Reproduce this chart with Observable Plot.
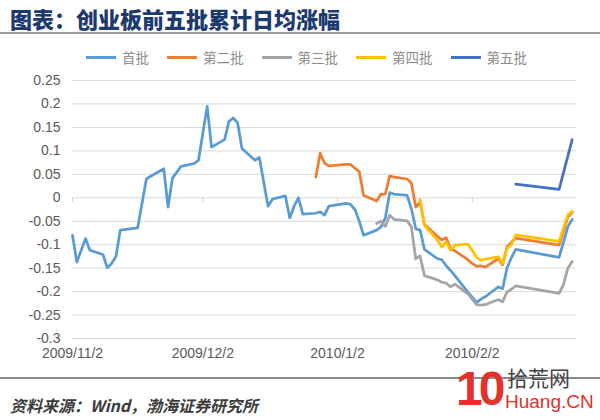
<!DOCTYPE html>
<html>
<head>
<meta charset="utf-8">
<script src="https://cdn.jsdelivr.net/npm/d3@7"></script>
<script src="https://cdn.jsdelivr.net/npm/@observablehq/plot@0.6"></script>
<style>
  html, body { margin: 0; padding: 0; background: #fff; }
  #wrap { position: relative; width: 600px; height: 420px; overflow: hidden; font-family: "Liberation Sans", Arial, sans-serif; }
  #title { position: absolute; left: 10px; top: 4px; font-family: "Noto Sans CJK SC", sans-serif; font-size: 22px; font-weight: 900; color: #1c3a6e; line-height: 28px; white-space: nowrap; }
  #rule1 { position: absolute; left: 0; top: 32px; width: 600px; height: 2px; background: #9c9c9c; }
  #legend { position: absolute; left: 86px; top: 48px; height: 18px; display: flex; align-items: center; font-family: "Noto Sans CJK SC", sans-serif; font-size: 13.5px; color: #8c8c8c; line-height: 18px; }
  .item { display: flex; align-items: center; margin-right: 18px; }
  .swatch { width: 30px; height: 3px; margin-right: 6px; }
  #chart { position: absolute; left: 0; top: 66px; }
  #rule2 { position: absolute; left: 0; top: 377px; width: 600px; height: 1.5px; background: #8a8a8a; }
  #source { position: absolute; left: 10px; top: 395px; font-family: "Noto Sans CJK SC", sans-serif; font-size: 16px; font-style: italic; font-weight: 700; color: #3a3a3a; line-height: 20px; white-space: nowrap; }
  #wm10 { position: absolute; left: 456px; top: 364px; font-family: "Liberation Sans Narrow", "Liberation Sans", sans-serif; font-weight: 700; font-size: 48px; color: #e3312b; letter-spacing: -4px; line-height: 50px; }
  #wmcn { position: absolute; left: 507px; top: 366px; font-family: "Noto Sans CJK SC", sans-serif; font-size: 21px; color: #444; line-height: 22px; }
  #wmen { position: absolute; left: 505px; top: 392px; font-family: "Liberation Sans Narrow", "Liberation Sans", sans-serif; font-size: 19px; color: #e3312b; line-height: 20px; }
</style>
</head>
<body>
<div id="wrap">
  <div id="title"></div>
  <div id="rule1"></div>
  <div id="legend"></div>
  <div id="chart"></div>
  <div id="rule2"></div>
  <div id="source"></div>
  <div id="wm10">10</div>
  <div id="wmcn">拾荒网</div>
  <div id="wmen">Huang.CN</div>
</div>
<script>
// ---- texts ----
const titleText = "图表：创业板前五批累计日均涨幅";
const sourceText = "资料来源：Wind，渤海证券研究所";

// ---- series ----
const seriesNames = ["首批", "第二批", "第三批", "第四批", "第五批"];
const seriesColors = ["#5b9bd5", "#ed7d31", "#a5a5a5", "#ffc000", "#4472c4"];

// trading dates (shared); every series below is aligned to the END of this list
const dates = [
  "2009-11-02","2009-11-03","2009-11-05","2009-11-06","2009-11-09","2009-11-10","2009-11-11","2009-11-12","2009-11-13","2009-11-17","2009-11-19","2009-11-20","2009-11-23","2009-11-24","2009-11-25","2009-11-27","2009-11-30",
  "2009-12-01","2009-12-03","2009-12-04","2009-12-07","2009-12-08","2009-12-09","2009-12-10","2009-12-11","2009-12-14","2009-12-15","2009-12-17","2009-12-18","2009-12-21","2009-12-22","2009-12-23","2009-12-24","2009-12-25","2009-12-28","2009-12-29","2009-12-30","2009-12-31",
  "2010-01-04","2010-01-05","2010-01-06","2010-01-07","2010-01-08","2010-01-11","2010-01-12","2010-01-13","2010-01-14","2010-01-15","2010-01-18","2010-01-19","2010-01-20","2010-01-21","2010-01-22","2010-01-25","2010-01-26","2010-01-27","2010-01-28","2010-01-29",
  "2010-02-01","2010-02-02","2010-02-03","2010-02-04","2010-02-05","2010-02-08","2010-02-09","2010-02-10","2010-02-11","2010-02-12","2010-02-22","2010-02-23","2010-02-24","2010-02-25"
];

// 首批 (from 2009-11-02)
const batch1 = [
  -0.080,-0.137,-0.087,-0.112,-0.121,-0.149,-0.140,-0.125,-0.069,-0.064,0.040,0.046,0.062,-0.020,0.042,0.067,0.073,
  0.080,0.195,0.108,0.124,0.163,0.170,0.160,0.105,0.080,0.086,-0.018,-0.003,0.004,-0.043,-0.018,0.000,-0.035,-0.033,-0.030,-0.037,-0.018,
  -0.012,-0.014,-0.025,-0.050,-0.080,-0.069,-0.062,-0.043,0.011,0.008,0.005,-0.023,-0.066,-0.069,-0.110,-0.130,-0.132,-0.145,-0.155,-0.166,
  -0.201,-0.212,-0.223,-0.216,-0.211,-0.190,-0.194,-0.150,-0.128,-0.110,-0.127,null,-0.062,-0.046
];
// 第二批 (from 2009-12-28)
const batch2 = [
  0.044,0.095,0.074,0.068,
  0.071,0.071,0.063,0.056,0.005,-0.007,0.008,0.008,0.046,0.044,0.040,0.031,-0.020,-0.009,-0.057,-0.082,-0.090,-0.085,-0.108,-0.113,
  -0.132,-0.140,-0.146,-0.145,-0.148,-0.130,-0.143,-0.105,-0.095,-0.086,-0.101,null,-0.041,-0.031
];
// 第三批 (from 2010-01-11)
const batch3 = [
  -0.055,-0.050,-0.061,-0.037,-0.046,-0.049,-0.062,-0.130,-0.124,-0.166,-0.175,-0.180,-0.182,-0.190,-0.184,
  -0.205,-0.216,-0.228,-0.229,-0.228,-0.217,-0.222,-0.201,-0.195,-0.188,-0.204,-0.185,-0.150,-0.136
];
// 第四批 (from 2010-01-21)
const batch4 = [
  -0.004,-0.059,-0.090,-0.105,-0.094,-0.112,-0.101,
  -0.099,-0.112,-0.127,-0.133,-0.131,-0.126,-0.140,-0.108,-0.100,-0.079,-0.093,null,-0.037,-0.029
];
// 第五批 (from 2010-02-12)
const batch5 = [0.029, 0.018, null, null, 0.124];

// ---- axes ----
const yTicks = [0.25, 0.2, 0.15, 0.1, 0.05, 0, -0.05, -0.1, -0.15, -0.2, -0.25, -0.3];
const xTickLabels = ["2009/11/2", "2009/12/2", "2010/1/2", "2010/2/2"];
const xDomainLabels = ["2009/11/2", "2010/2/26"];

// ---- build ----
const parseISO = d3.utcParse("%Y-%m-%d");
const parseSlash = d3.utcParse("%Y/%m/%d");
const seriesValues = [batch1, batch2, batch3, batch4, batch5];
const rows = seriesValues.flatMap((vals, k) => {
  const off = dates.length - vals.length;
  return vals.map((v, i) => ({ name: seriesNames[k], date: parseISO(dates[off + i]), value: v }))
             .filter(r => r.value !== null);
});
const xTickDates = xTickLabels.map(parseSlash);
const labelOf = new Map(xTickDates.map((d, i) => [+d, xTickLabels[i]]));

document.getElementById("title").textContent = titleText;
document.getElementById("source").textContent = sourceText;

const legend = document.getElementById("legend");
seriesNames.forEach((n, i) => {
  const it = document.createElement("div"); it.className = "item";
  const sw = document.createElement("div"); sw.className = "swatch"; sw.style.background = seriesColors[i];
  const tx = document.createElement("span"); tx.textContent = n;
  it.appendChild(sw); it.appendChild(tx); legend.appendChild(it);
});

const chart = Plot.plot({
  width: 600,
  height: 302,
  marginLeft: 72,
  marginRight: 24,
  marginTop: 14,
  marginBottom: 30,
  style: { fontFamily: "'Liberation Sans', Arial, sans-serif", fontSize: "14px", color: "#595959", background: "transparent" },
  x: { type: "utc", domain: xDomainLabels.map(parseSlash), label: null },
  y: { domain: [-0.3, 0.25], label: null },
  color: { domain: seriesNames, range: seriesColors },
  marks: [
    Plot.gridY(yTicks, { stroke: "#d9d9d9", strokeOpacity: 1, strokeWidth: 1 }),
    Plot.ruleX(xTickDates, { y1: 0, y2: -0.01, stroke: "#d0d0d0", strokeWidth: 1 }),
    Plot.axisY({ ticks: yTicks, tickSize: 0, tickPadding: 12, label: null, tickFormat: d => String(+d.toFixed(2)), fill: "#595959", fontSize: 14 }),
    Plot.axisX({ ticks: xTickDates, tickSize: 0, tickPadding: 10, label: null, tickFormat: d => labelOf.get(+d), fill: "#595959", fontSize: 14 }),
    Plot.line(rows, { x: "date", y: "value", z: "name", stroke: "name", strokeWidth: 2.75, strokeLinejoin: "round", strokeLinecap: "round" })
  ]
});
document.getElementById("chart").appendChild(chart);
</script>
</body>
</html>
